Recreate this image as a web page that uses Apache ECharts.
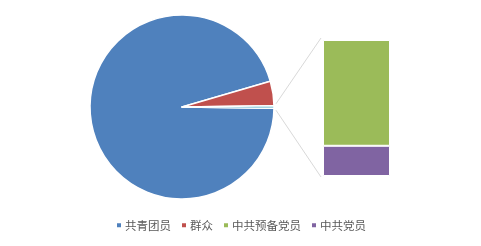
<!DOCTYPE html>
<html>
<head>
<meta charset="utf-8">
<script src="https://cdn.jsdelivr.net/npm/echarts@6/dist/echarts.min.js"></script>
<style>
  html, body { margin: 0; padding: 0; background: #fff; }
  #chart { width: 481px; height: 246px; }
</style>
</head>
<body>
<div id="chart"></div>
<script>
// Membership breakdown: the pie shows the two large groups plus a combined
// slice, and the stacked bar on the right splits that combined slice.
const pieNames = ['共青团员', '群众'];
const pieValues = [2100, 95];
const barNames = ['中共预备党员', '中共党员'];
const barValues = [7, 2];
const otherName = '其他';
const legendNames = ['共青团员', '群众', '中共预备党员', '中共党员'];

const colors = {
  '共青团员': '#4F81BD',
  '群众': '#C0504D',
  '中共预备党员': '#9BBB59',
  '中共党员': '#8064A2',
  '其他': '#4BACC6'
};

const otherValue = barValues.reduce((a, b) => a + b, 0);
const total = pieValues.reduce((a, b) => a + b, 0) + otherValue;
const otherAngle = otherValue / total * 360;

// layout
const pieCenter = [182, 107];
const pieRadius = 92;
const barGrid = { left: 323, top: 40, width: 67, height: 136 };

const pieData = pieNames.map((n, i) => ({ name: n, value: pieValues[i], itemStyle: { color: colors[n] } }));
pieData.push({ name: otherName, value: otherValue, itemStyle: { color: colors[otherName] } });

// bottom segment first so the stack reads top-down like the legend
const stackOrder = [1, 0];
const barSeries = stackOrder.map(i => ({
  name: barNames[i],
  type: 'bar',
  stack: 'other',
  barWidth: '100%',
  data: [barValues[i]],
  itemStyle: { color: colors[barNames[i]], borderColor: '#fff', borderWidth: 1 },
  silent: true
}));

const chart = echarts.init(document.getElementById('chart'), null, { renderer: 'canvas' });

// connector lines from the edges of the combined slice to the bar corners
const half = otherAngle / 2 * Math.PI / 180;
const edge = pieRadius + 2;
const p1 = [pieCenter[0] + edge * Math.cos(half), pieCenter[1] - edge * Math.sin(half) - 2];
const p2 = [pieCenter[0] + edge * Math.cos(half), pieCenter[1] + edge * Math.sin(half) + 2];
const lineStyle = { stroke: '#D9D9D9', lineWidth: 1 };

chart.setOption({
  animation: false,
  backgroundColor: '#fff',
  textStyle: { fontFamily: '"Noto Sans CJK SC", sans-serif' },
  legend: {
    data: legendNames,
    bottom: 10,
    left: 'center',
    icon: 'rect',
    itemWidth: 6,
    itemHeight: 6,
    itemGap: 9,
    selectedMode: false,
    textStyle: { color: '#595959', fontSize: 11.5, fontFamily: '"Noto Sans CJK SC", sans-serif', padding: [0, 0, 0, -2] }
  },
  grid: {
    left: barGrid.left,
    top: barGrid.top,
    width: barGrid.width,
    height: barGrid.height
  },
  xAxis: { type: 'category', data: [''], show: false },
  yAxis: { type: 'value', min: 0, max: otherValue, show: false },
  series: [
    {
      type: 'pie',
      center: pieCenter,
      radius: pieRadius,
      startAngle: -otherAngle / 2,
      clockwise: true,
      label: { show: false },
      labelLine: { show: false },
      silent: true,
      itemStyle: { borderColor: '#fff', borderWidth: 1.5 },
      data: pieData
    }
  ].concat(barSeries),
  graphic: [
    { type: 'line', shape: { x1: p1[0], y1: p1[1], x2: barGrid.left - 2, y2: barGrid.top - 2 }, style: lineStyle, silent: true },
    { type: 'line', shape: { x1: p2[0], y1: p2[1], x2: barGrid.left - 2, y2: barGrid.top + barGrid.height + 1 }, style: lineStyle, silent: true }
  ]
});
</script>
</body>
</html>
